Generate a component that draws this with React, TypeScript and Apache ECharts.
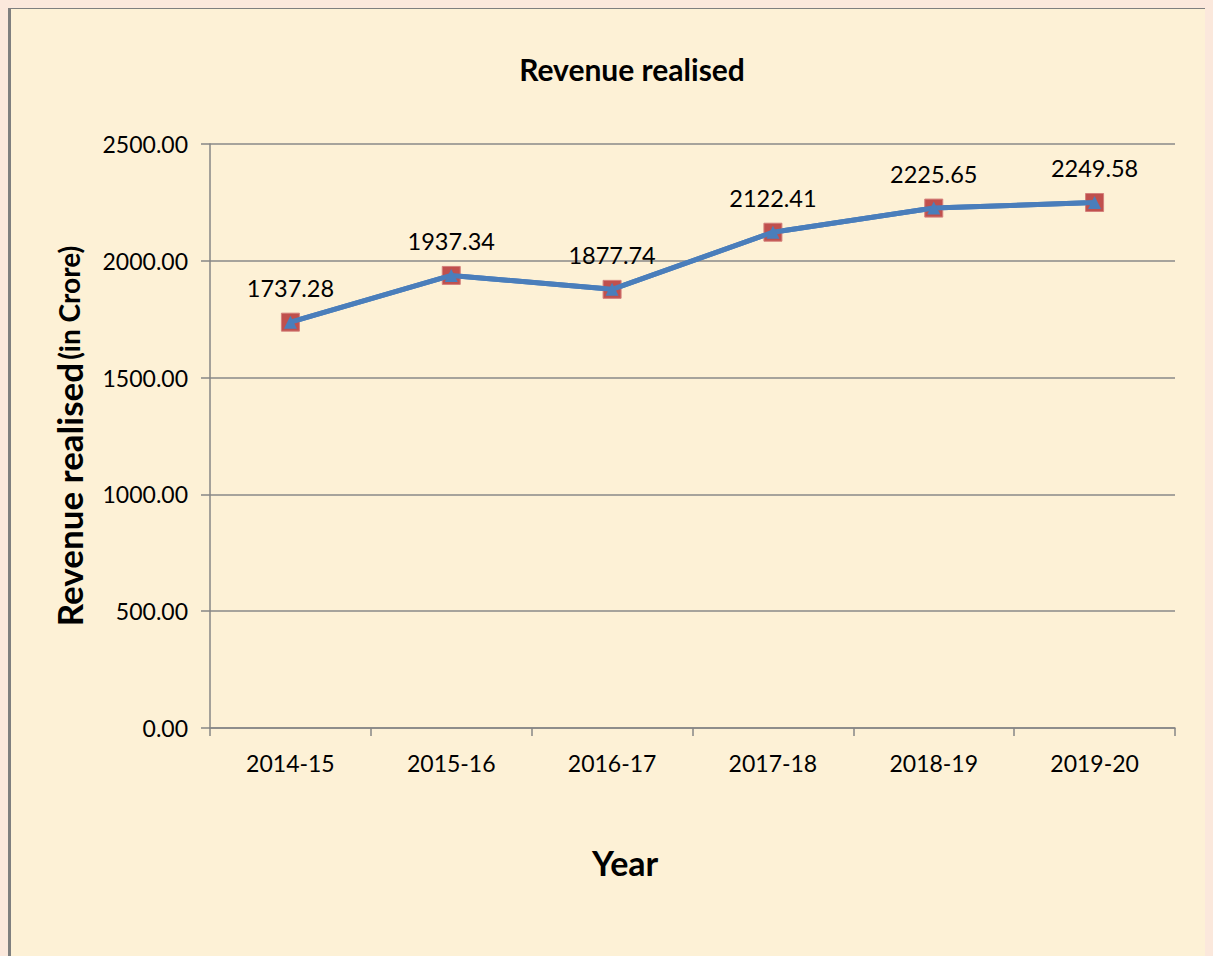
import React, { useEffect, useRef } from "react";
import * as echarts from "echarts";

const categories = ["2014-15", "2015-16", "2016-17", "2017-18", "2018-19", "2019-20"];
const revenue = [1737.28, 1937.34, 1877.74, 2122.41, 2225.65, 2249.58];
const yTicks = { min: 0, max: 2500, interval: 500 };

const FONT = "Lato, 'Open Sans', sans-serif";

export default function App() {
  const ref = useRef<HTMLDivElement>(null);
  useEffect(() => {
    document.body.style.background = "#fbe8dc";
    const chart = echarts.init(ref.current!, null, { renderer: "svg" });
    chart.setOption({
      animation: false,
      backgroundColor: "transparent",
      textStyle: { fontFamily: FONT },
      title: {
        text: "Revenue realised",
        left: 616,
        top: 40,
        textAlign: "center",
        textStyle: { fontFamily: FONT, fontWeight: "bold", fontSize: 30, color: "#000" },
      },
      graphic: [
        {
          type: "text",
          left: 581,
          top: 836,
          style: { text: "Year", font: `bold 34px ${FONT}`, fill: "#000" },
        },
      ],
      grid: { left: 199, top: 135, width: 965, height: 584 },
      xAxis: {
        type: "category",
        data: categories,
        boundaryGap: true,
        axisLine: { lineStyle: { color: "#868686", width: 1.5 } },
        axisTick: { show: true, length: 8, lineStyle: { color: "#868686", width: 1.5 } },
        axisLabel: { color: "#000", fontSize: 23, margin: 23, fontFamily: FONT },
      },
      yAxis: {
        type: "value",
        min: yTicks.min,
        max: yTicks.max,
        interval: yTicks.interval,
        name: "{a|Revenue realised} {b|(in Crore)}",
        nameLocation: "middle",
        nameRotate: 90,
        nameGap: 124,
        nameTextStyle: {
          rich: {
            a: { fontFamily: FONT, fontWeight: "bold", fontSize: 35, color: "#000" },
            b: { fontFamily: FONT, fontWeight: "bold", fontSize: 28, color: "#000" },
          },
        },
        axisLine: { show: true, lineStyle: { color: "#868686", width: 1.5 } },
        axisTick: { show: true, length: 9, lineStyle: { color: "#868686", width: 1.5 } },
        splitLine: { show: true, lineStyle: { color: "#888888", width: 1.5 } },
        axisLabel: {
          color: "#000",
          fontSize: 23,
          margin: 22,
          fontFamily: FONT,
          formatter: (v: number) => v.toFixed(2),
        },
      },
      series: [
        {
          type: "line",
          data: revenue,
          symbol: "rect",
          symbolSize: 18,
          itemStyle: { color: "#c0504d", borderColor: "#d4807c", borderWidth: 1 },
          lineStyle: { color: "#4a7ebb", width: 5 },
          label: {
            show: true,
            position: "top",
            distance: 13,
            color: "#000",
            fontSize: 23.5,
            fontFamily: FONT,
            formatter: (p: any) => p.value.toFixed(2),
          },
          z: 2,
        },
        {
          type: "line",
          data: revenue,
          symbol: "triangle",
          symbolSize: 13,
          itemStyle: { color: "#4a7ebb" },
          lineStyle: { color: "#4a7ebb", width: 5 },
          label: { show: false },
          z: 3,
        },
      ],
    });
    return () => chart.dispose();
  }, []);
  return (
    <div
      style={{
        marginTop: -2,
        width: 1203,
        height: 960,
        boxSizing: "border-box",
        borderLeft: "3px solid #7f7f7f",
        borderTop: "3px solid #7f7f7f",
        borderRight: "3px solid #7f7f7f",
        background: "#fdf1d6",
      }}
    >
      <div ref={ref} style={{ width: 1197, height: 957 }} />
    </div>
  );
}
